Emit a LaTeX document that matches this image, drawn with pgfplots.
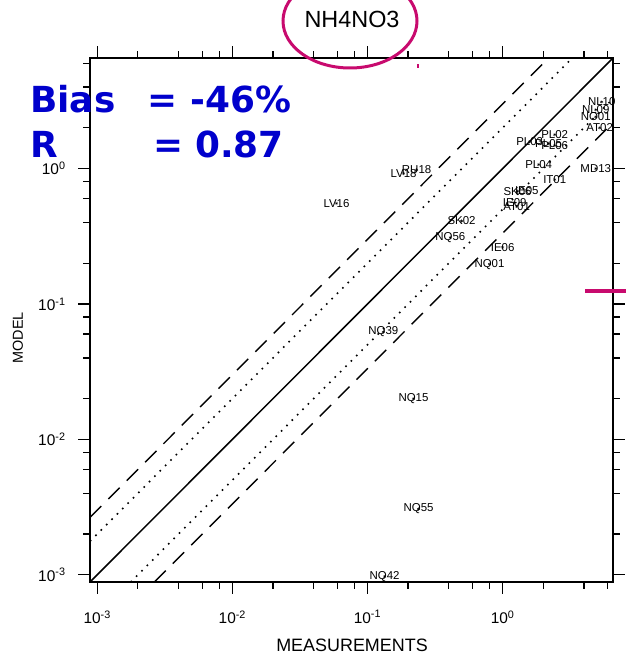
\documentclass[border=0pt]{standalone}
\usepackage{pgfplots}
\pgfplotsset{compat=1.18}
\usepackage{pgfplotstable}
\usepackage{fontspec}
\setmainfont{Liberation Sans}
\newfontfamily\dvs{DejaVu Sans}
\definecolor{statblue}{RGB}{0,0,204}
\definecolor{mag}{RGB}{200,10,110}

\pgfplotstableread{
label x y
LV16 0.059 0.553
LV18 0.185 0.92
RU18 0.231 0.98
SK02 0.497 0.41
NQ56 0.41 0.31
IE06 1.0 0.262
NQ01 0.80 0.197
NQ39 0.131 0.0622
NQ15 0.219 0.020
NQ55 0.239 0.00306
NQ42 0.134 0.00097
SK06 1.29 0.68
IE05 1.51 0.69
IE09 1.23 0.56
AT01 1.27 0.526
PL04 1.85 1.07
IT01 2.43 0.83
MD13 4.89 1.0
PL03 1.585 1.58
PL02 2.43 1.78
PL05 2.19 1.53
PL06 2.43 1.48
NL10 5.41 3.11
NL09 4.89 2.72
NO01 4.89 2.41
AT02 5.23 2.0
}\stations

\begin{document}
\begin{tikzpicture}[x=1bp,y=1bp]
\path[use as bounding box] (-90,-75) rectangle (536,582);
\clip (-90,-75) rectangle (536,582);
\begin{axis}[
  at={(0,0)}, anchor=south west,
  scale only axis, width=523bp, height=524bp,
  xmode=log, ymode=log,
  xmin=8.85e-4, xmax=6.56, ymin=8.85e-4, ymax=6.56,
  clip=false,
  axis line style={line width=1.5bp},
  tick align=outside,
  major tick length=12bp, minor tick length=7bp,
  every tick/.style={black, line width=1.3bp},
  xtick={1e-3,1e-2,1e-1,1},
  ytick={1e-3,1e-2,1e-1,1},
  minor xtick={2e-3,4e-3,6e-3,8e-3,2e-2,4e-2,6e-2,8e-2,0.2,0.4,0.6,0.8,2,4,6},
  minor ytick={2e-3,4e-3,6e-3,8e-3,2e-2,4e-2,6e-2,8e-2,0.2,0.4,0.6,0.8,2,4,6},
  xticklabels={10\textsuperscript{-3},10\textsuperscript{-2},10\textsuperscript{-1},10\textsuperscript{0}},
  yticklabels={10\textsuperscript{-3},10\textsuperscript{-2},10\textsuperscript{-1},10\textsuperscript{0}},
  /pgf/number format/assume math mode=true,
  ticklabel style={font=\fontsize{15.5}{17}\selectfont},
  xticklabel style={yshift=-13bp},
  yticklabel style={xshift=-9bp},
  xlabel={MEASUREMENTS},
  ylabel={MODEL},
  xlabel style={at={(axis description cs:0.501,-0.120)}, anchor=center, font=\fontsize{18}{20}\selectfont},
  ylabel style={at={(axis description cs:-0.138,0.466)}, anchor=center, rotate=0, font=\fontsize{14.5}{16}\selectfont},
  title={NH4NO3},
  title style={at={(axis description cs:0.501,1.063)}, anchor=center, font=\fontsize{23.5}{25}\selectfont},
]
\addplot[black, line width=1.5bp] coordinates {(8.85e-4,8.85e-4) (6.56,6.56)};
\addplot[black, line width=1.6bp, dash pattern=on 1.6bp off 6bp] coordinates {(8.85e-4,1.77e-3) (3.28,6.56)};
\addplot[black, line width=1.6bp, dash pattern=on 1.6bp off 6bp] coordinates {(1.77e-3,8.85e-4) (6.56,3.28)};
\addplot[black, line width=1.4bp, dash pattern=on 16bp off 10bp] coordinates {(8.85e-4,2.655e-3) (2.1867,6.56)};
\addplot[black, line width=1.4bp, dash pattern=on 16bp off 10bp] coordinates {(2.655e-3,8.85e-4) (6.56,2.1867)};
\addplot[only marks, mark=asterisk, mark size=1.6bp, black,
  nodes near coords, point meta=explicit symbolic,
  nodes near coords align=center,
  every node near coord/.style={font=\fontsize{11.5}{13}\selectfont, inner sep=0pt, anchor=center}]
  table[x=x, y=y, meta=label] {\stations};
\end{axis}
\node[anchor=base west, text=statblue, font=\dvs\bfseries\fontsize{36}{40}\selectfont, inner sep=0pt] at (-60,469) {Bias};
\node[anchor=base west, text=statblue, font=\dvs\bfseries\fontsize{36}{40}\selectfont, inner sep=0pt] at (57,469) {=};
\node[anchor=base west, text=statblue, font=\dvs\bfseries\fontsize{36}{40}\selectfont, inner sep=0pt] at (100,469) {-46\%};
\node[anchor=base west, text=statblue, font=\dvs\bfseries\fontsize{36}{40}\selectfont, inner sep=0pt] at (-60,424) {R};
\node[anchor=base west, text=statblue, font=\dvs\bfseries\fontsize{36}{40}\selectfont, inner sep=0pt] at (63,424) {=};
\node[anchor=base west, text=statblue, font=\dvs\bfseries\fontsize{36}{40}\selectfont, inner sep=0pt] at (105,424) {0.87};
\draw[mag, line width=3bp] (260,561) ellipse [x radius=67, y radius=47];
\draw[mag, line width=4bp] (495,291) -- (536,291);
\draw[mag, line width=1.5bp] (328,514) -- (328,518);
\end{tikzpicture}
\end{document}
